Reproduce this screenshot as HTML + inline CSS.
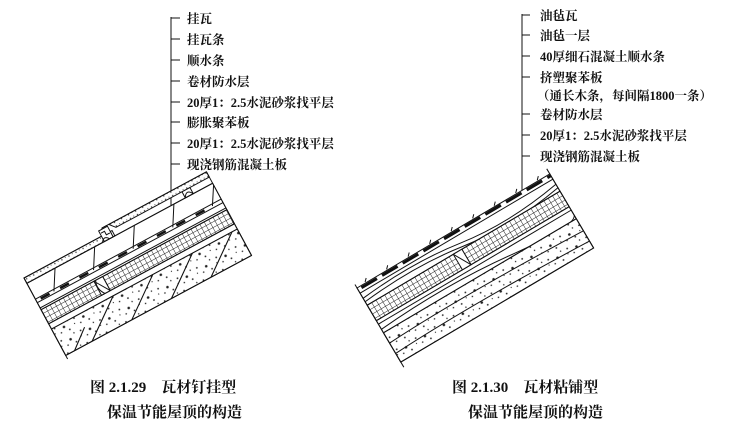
<!DOCTYPE html>
<html><head><meta charset="utf-8"><style>
html,body{margin:0;padding:0;background:#fff;}
svg{display:block;}
text{font-family:"Liberation Serif","Noto Serif CJK SC","Noto Sans CJK SC",serif;fill:#111;font-weight:bold;}
</style></head><body>
<svg width="730" height="431" viewBox="0 0 730 431" xmlns="http://www.w3.org/2000/svg">
<defs>
<pattern id="cross" width="5" height="5" patternUnits="userSpaceOnUse">
<rect width="5" height="5" fill="#fff"/>
<path d="M0 0H5M0 0V5" stroke="#222" stroke-width="1"/>
</pattern>
<pattern id="dots" width="22" height="14" patternUnits="userSpaceOnUse">
<rect width="22" height="14" fill="#fff"/>
<circle cx="3" cy="3" r="0.9" fill="#222"/><circle cx="12" cy="6" r="1.3" fill="#222"/>
<circle cx="18" cy="2" r="0.7" fill="#222"/><circle cx="7" cy="10" r="0.8" fill="#222"/>
<circle cx="16" cy="11" r="0.9" fill="#222"/><circle cx="1" cy="8" r="0.6" fill="#222"/>
</pattern>
<pattern id="tdots" width="8" height="4" patternUnits="userSpaceOnUse">
<rect width="8" height="4" fill="#fff"/>
<circle cx="2" cy="2" r="0.7" fill="#333"/><circle cx="6" cy="1.5" r="0.5" fill="#333"/>
</pattern>
</defs>

<!-- LEFT labels -->
<g stroke="#111" stroke-width="1">
<line x1="171" y1="17" x2="171" y2="280"/>
<line x1="171" y1="18" x2="180" y2="18"/><line x1="171" y1="39" x2="180" y2="39"/>
<line x1="171" y1="60" x2="180" y2="60"/><line x1="171" y1="81" x2="180" y2="81"/>
<line x1="171" y1="102" x2="180" y2="102"/><line x1="171" y1="122" x2="180" y2="122"/>
<line x1="171" y1="143" x2="180" y2="143"/><line x1="171" y1="164" x2="180" y2="164"/>
</g>
<g font-size="12.5">
<text x="187" y="23">挂瓦</text>
<text x="187" y="44">挂瓦条</text>
<text x="187" y="65">顺水条</text>
<text x="187" y="86">卷材防水层</text>
<text x="187" y="107">20厚1：2.5水泥砂浆找平层</text>
<text x="187" y="127">膨胀聚苯板</text>
<text x="187" y="148">20厚1：2.5水泥砂浆找平层</text>
<text x="187" y="169">现浇钢筋混凝土板</text>
</g>

<!-- LEFT block -->
<g transform="translate(24,278) rotate(-28.3)" stroke="#111" stroke-width="1" fill="none">
<rect x="0" y="6" width="211" height="82" fill="#fff"/>
<!-- tiles -->
<path d="M0 0 L100 0 L100 6 L0 6 Z" fill="url(#tdots)"/>
<path d="M100 -7 L211 -7 L211 -1 L105 -1 Z" fill="url(#tdots)"/>
<path d="M0 6 L0 0 L92 0 M92 -7 L211 -7"/>
<path d="M92 -7 L92 6" />
<rect x="88" y="-6" width="10" height="12" fill="#fff"/>
<path d="M89 -3 l4 0 l0 4 l4 0 M92 -7 l6 0" />
<rect x="180" y="-1" width="9" height="7" fill="#fff"/>
<path d="M180 6 q4.5 -8 9 0" />
<path d="M86 6 q4 -6 8 0" />
<!-- air layer diagonal lines -->
<path d="M20 26 L32 6 M65 26 L77 6 M110 26 L122 6 M155 26 L167 6 M200 26 L211 8"/>
<line x1="0" y1="6" x2="211" y2="6"/>
<line x1="0" y1="24" x2="211" y2="24"/>
<line x1="0" y1="28" x2="211" y2="28"/>
<path d="M5 26 H200" stroke-width="2.5" stroke-dasharray="10 12"/>
<line x1="0" y1="34" x2="211" y2="34"/>
<rect x="0" y="36" width="211" height="16" fill="url(#cross)"/>
<line x1="0" y1="36" x2="211" y2="36"/>
<line x1="0" y1="52" x2="211" y2="52"/>
<rect x="60" y="36" width="10" height="16" fill="#fff"/>
<path d="M60 36 q5 8 10 16 M62 36 q-4 8 2 16" />
<line x1="0" y1="58" x2="211" y2="58"/>
<rect x="0" y="58" width="211" height="30" fill="url(#dots)"/>
<path d="M30 88 L70 58 M75 88 L115 58 M120 88 L160 58 M165 88 L205 58 M10 88 L30 72" stroke-width="1.1"/>
<line x1="0" y1="88" x2="211" y2="88"/>
<line x1="0" y1="0" x2="0" y2="92"/>
<line x1="211" y1="-7" x2="211" y2="88"/>
</g>

<!-- RIGHT labels -->
<g stroke="#111" stroke-width="1">
<line x1="522" y1="14" x2="522" y2="190"/>
<line x1="522" y1="15" x2="530" y2="15"/><line x1="522" y1="35" x2="530" y2="35"/>
<line x1="522" y1="56" x2="530" y2="56"/><line x1="522" y1="77" x2="530" y2="77"/>
<line x1="522" y1="114" x2="530" y2="114"/><line x1="522" y1="135" x2="530" y2="135"/>
<line x1="522" y1="156" x2="530" y2="156"/>
</g>
<g font-size="12.5">
<text x="540" y="20">油毡瓦</text>
<text x="540" y="40">油毡一层</text>
<text x="540" y="61">40厚细石混凝土顺水条</text>
<text x="540" y="82">挤塑聚苯板</text>
<text x="537" y="100">（通长木条，每间隔1800一条）</text>
<text x="540" y="119">卷材防水层</text>
<text x="540" y="140">20厚1：2.5水泥砂浆找平层</text>
<text x="540" y="161">现浇钢筋混凝土板</text>
</g>

<!-- RIGHT block -->
<g transform="translate(357,288) rotate(-30.6)" stroke="#111" stroke-width="1" fill="none">
<rect x="0" y="0" width="224" height="86" fill="#fff"/>
<path d="M4 2 H224" stroke-width="3" stroke-dasharray="18 6"/>
<path d="M10 -1 l3 -3 M35 -1 l3 -3 M60 -1 l3 -3 M85 -1 l3 -3 M110 -1 l3 -3 M135 -1 l3 -3 M160 -1 l3 -3 M185 -1 l3 -3 M210 -1 l3 -3"/>
<line x1="0" y1="6" x2="224" y2="6"/>
<path d="M0 12 Q60 6 112 14 T224 12"/>
<path d="M0 16 Q60 10 112 18 T224 16"/>
<rect x="0" y="20" width="224" height="18" fill="url(#cross)"/>
<line x1="0" y1="20" x2="224" y2="20"/>
<line x1="0" y1="38" x2="224" y2="38"/>
<rect x="100" y="20" width="10" height="18" fill="#fff"/>
<path d="M100 20 q5 9 10 18"/>
<line x1="0" y1="42" x2="224" y2="42"/>
<path d="M0 48 Q80 42 150 50 T224 48"/>
<rect x="0" y="52" width="224" height="34" fill="url(#dots)"/>
<line x1="0" y1="52" x2="224" y2="52"/>
<path d="M0 64 Q80 60 224 66 M0 76 Q90 72 224 78"/>
<line x1="0" y1="86" x2="224" y2="86"/>
<line x1="0" y1="-4" x2="0" y2="92"/>
<line x1="224" y1="-6" x2="224" y2="86"/>
</g>

<!-- captions -->
<g font-size="15">
<text x="90" y="392">图 2.1.29　瓦材钉挂型</text>
<text x="107" y="417">保温节能屋顶的构造</text>
<text x="452" y="392">图 2.1.30　瓦材粘铺型</text>
<text x="468" y="417">保温节能屋顶的构造</text>
</g>
</svg>
</body></html>
